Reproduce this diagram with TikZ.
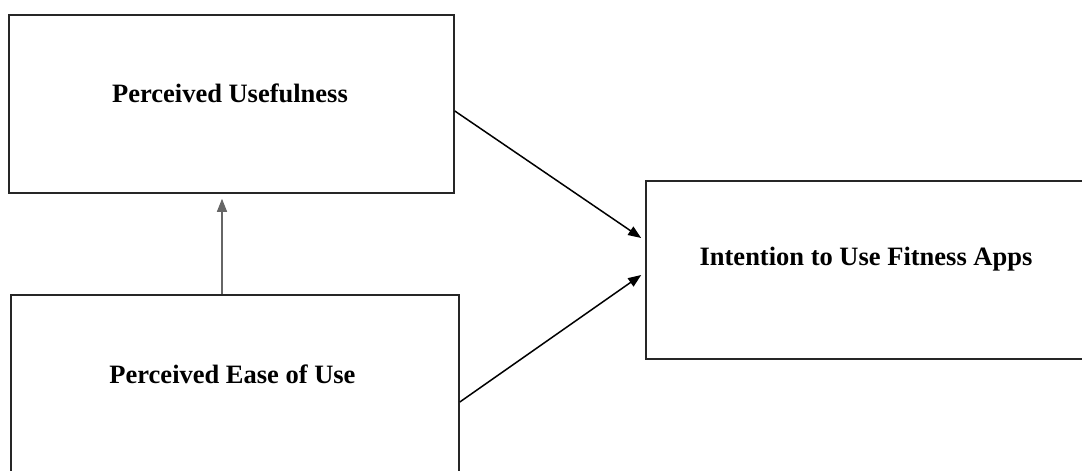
\documentclass[tikz,border=0pt]{standalone}
\usepackage{fontspec}
\setmainfont{Liberation Serif}
\usetikzlibrary{arrows.meta,positioning}

\tikzset{
    box/.style={draw=black!85, line width=1.6pt, inner sep=0pt},
    lbl/.style={font=\fontsize{26.5}{31}\selectfont\bfseries, inner sep=0pt},
    link/.style={line width=1.5pt, -{Triangle[length=13pt,width=10pt]}}
}

\begin{document}
\begin{tikzpicture}[x=1pt,y=-1pt]
            \useasboundingbox (0,0) rectangle (1082,471);
            \clip (0,0) rectangle (1082,471);

            \node[box, minimum width=445pt, minimum height=178pt] (pu) at (231.5,104) {};
            \node[lbl] (putext) at (230,93) {Perceived Usefulness};

            \node[box, minimum width=448pt, minimum height=180pt] (peu) at (235,385) {};
            \node[lbl] (peutext) at (232.5,374) {Perceived Ease of Use};

            \node[box, minimum width=440pt, minimum height=178pt] (ita) at (866,270) {};
            \node[lbl] (itatext) at (866,259) {Intention to Use Fitness Apps};

            \draw[link, draw=black!60, line width=1.3pt] ([xshift=-13pt]peu.north) -- ([xshift=-9.5pt,yshift=-5pt]pu.south);
            \draw[link] ([yshift=-7pt]pu.east) -- ([xshift=-4pt,yshift=32pt]ita.west);
            \draw[link] ([yshift=-17pt]peu.east) -- ([xshift=-4pt,yshift=-5pt]ita.west);
        \end{tikzpicture}
\end{document}
